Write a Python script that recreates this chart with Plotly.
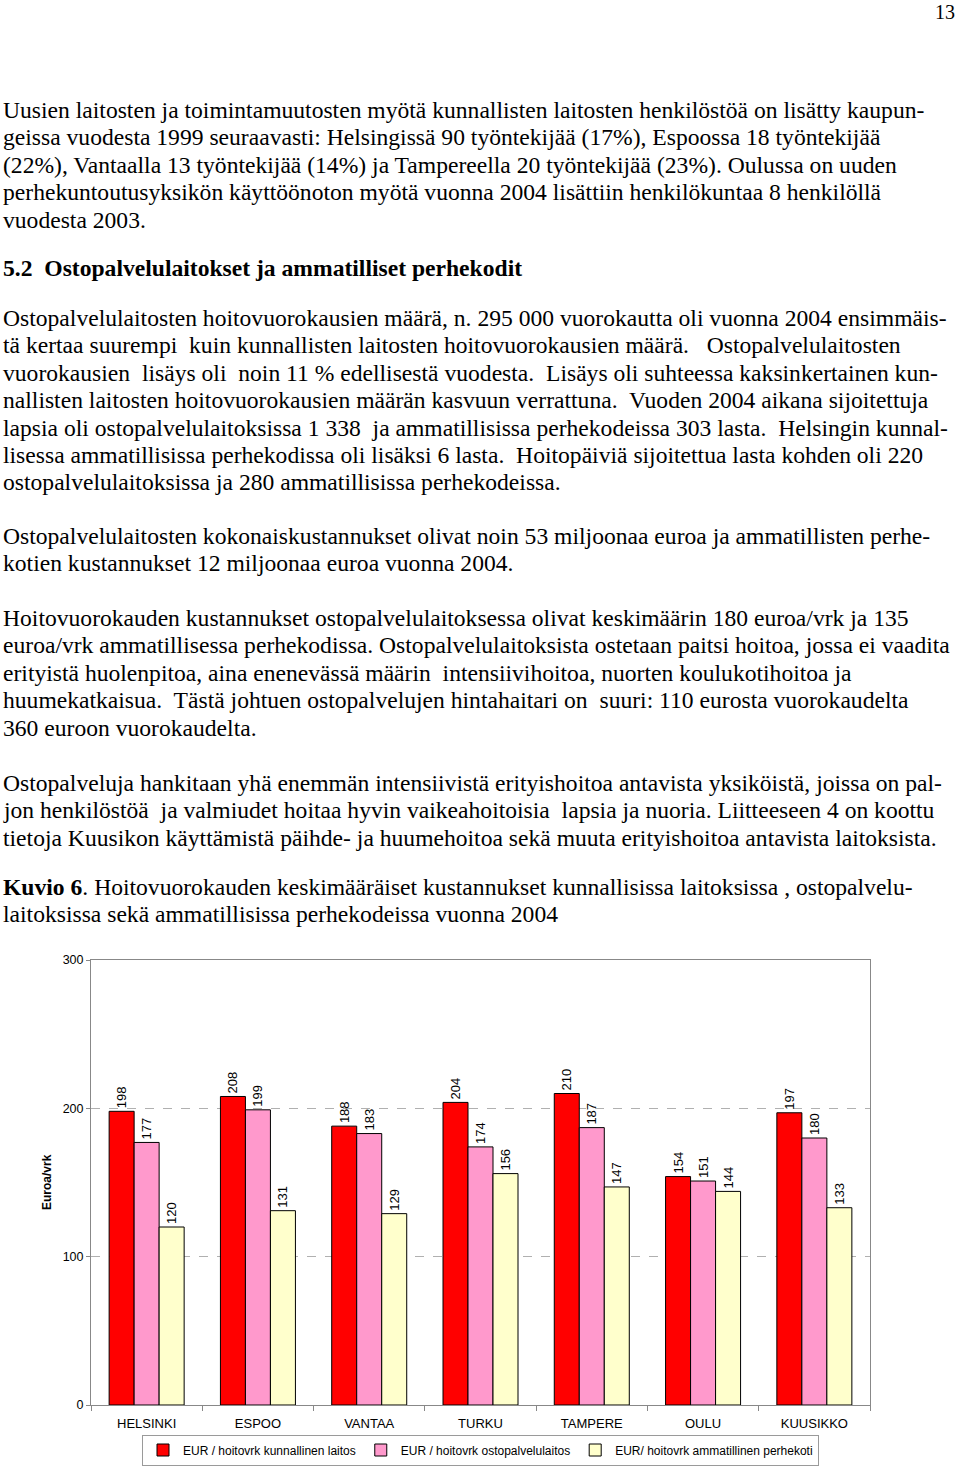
import plotly.graph_objects as go

# --- chart data -------------------------------------------------------------
cities = ["HELSINKI", "ESPOO", "VANTAA", "TURKU", "TAMPERE", "OULU", "KUUSIKKO"]
kunnallinen = [198, 208, 188, 204, 210, 154, 197]
ostopalvelu = [177, 199, 183, 174, 187, 151, 180]
perhekoti = [120, 131, 129, 156, 147, 144, 133]
series_names = [
    "EUR / hoitovrk kunnallinen laitos",
    "EUR / hoitovrk ostopalvelulaitos",
    "EUR/ hoitovrk ammatillinen perhekoti",
]
y_ticks = [0, 100, 200, 300]
y_title = "Euroa/vrk"

# --- page text --------------------------------------------------------------
page_number = "13"
para1 = [
    "Uusien laitosten ja toimintamuutosten myötä kunnallisten laitosten henkilöstöä on lisätty kaupun-",
    "geissa vuodesta 1999 seuraavasti: Helsingissä 90 työntekijää (17%), Espoossa 18 työntekijää",
    "(22%), Vantaalla 13 työntekijää (14%) ja Tampereella 20 työntekijää (23%). Oulussa on uuden",
    "perhekuntoutusyksikön käyttöönoton myötä vuonna 2004 lisättiin henkilökuntaa 8 henkilöllä",
    "vuodesta 2003.",
]
heading = "5.2  Ostopalvelulaitokset ja ammatilliset perhekodit"
para2 = [
    "Ostopalvelulaitosten hoitovuorokausien määrä, n. 295 000 vuorokautta oli vuonna 2004 ensimmäis-",
    "tä kertaa suurempi  kuin kunnallisten laitosten hoitovuorokausien määrä.   Ostopalvelulaitosten",
    "vuorokausien  lisäys oli  noin 11 % edellisestä vuodesta.  Lisäys oli suhteessa kaksinkertainen kun-",
    "nallisten laitosten hoitovuorokausien määrän kasvuun verrattuna.  Vuoden 2004 aikana sijoitettuja",
    "lapsia oli ostopalvelulaitoksissa 1 338  ja ammatillisissa perhekodeissa 303 lasta.  Helsingin kunnal-",
    "lisessa ammatillisissa perhekodissa oli lisäksi 6 lasta.  Hoitopäiviä sijoitettua lasta kohden oli 220",
    "ostopalvelulaitoksissa ja 280 ammatillisissa perhekodeissa.",
]
para3 = [
    "Ostopalvelulaitosten kokonaiskustannukset olivat noin 53 miljoonaa euroa ja ammatillisten perhe-",
    "kotien kustannukset 12 miljoonaa euroa vuonna 2004.",
]
para4 = [
    "Hoitovuorokauden kustannukset ostopalvelulaitoksessa olivat keskimäärin 180 euroa/vrk ja 135",
    "euroa/vrk ammatillisessa perhekodissa. Ostopalvelulaitoksista ostetaan paitsi hoitoa, jossa ei vaadita",
    "erityistä huolenpitoa, aina enenevässä määrin  intensiivihoitoa, nuorten koulukotihoitoa ja",
    "huumekatkaisua.  Tästä johtuen ostopalvelujen hintahaitari on  suuri: 110 eurosta vuorokaudelta",
    "360 euroon vuorokaudelta.",
]
para5 = [
    "Ostopalveluja hankitaan yhä enemmän intensiivistä erityishoitoa antavista yksiköistä, joissa on pal-",
    "jon henkilöstöä  ja valmiudet hoitaa hyvin vaikeahoitoisia  lapsia ja nuoria. Liitteeseen 4 on koottu",
    "tietoja Kuusikon käyttämistä päihde- ja huumehoitoa sekä muuta erityishoitoa antavista laitoksista.",
]
caption = [
    "<b>Kuvio 6</b>. Hoitovuorokauden keskimääräiset kustannukset kunnallisissa laitoksissa , ostopalvelu-",
    "laitoksissa sekä ammatillisissa perhekodeissa vuonna 2004",
]

# --- geometry ---------------------------------------------------------------
W, H = 960, 1467
L, R, T, B = 91, 90, 960, 62
PW, PH = W - L - R, H - T - B


def px(x):
    return (x - L) / PW


def py(y):
    return (H - B - y) / PH


SERIF = "Liberation Serif, Times New Roman, serif"
SANS = "Liberation Sans, Arial, sans-serif"
TXT = 23.6
LINE = 27.4

fig = go.Figure()
colors = ["#FF0000", "#FF99CC", "#FFFFCC"]
for name, vals, col in zip(series_names, [kunnallinen, ostopalvelu, perhekoti], colors):
    fig.add_trace(
        go.Bar(
            x=cities, y=vals, name=name,
            marker={"color": col, "line": {"color": "#000000", "width": 1}},
            text=vals, textposition="outside", textangle=-90,
            textfont={"family": SANS, "size": 13, "color": "#000000"},
            constraintext="none", cliponaxis=False,
        )
    )

annotations = []


def add_lines(lines, y0, bold=False):
    for i, line in enumerate(lines):
        t = f"<b>{line}</b>" if bold else line
        annotations.append(dict(
            x=px(1), y=py(y0 + i * LINE), xref="paper", yref="paper",
            text=t, showarrow=False, xanchor="left", yanchor="middle",
            font={"family": SERIF, "size": TXT, "color": "#000000"},
        ))


annotations.append(dict(
    x=px(957), y=py(12), xref="paper", yref="paper", text=page_number,
    showarrow=False, xanchor="right", yanchor="middle",
    font={"family": SERIF, "size": 20, "color": "#000000"},
))
add_lines(para1, 110)
add_lines([heading], 268, bold=True)
add_lines(para2, 318)
add_lines(para3, 536)
add_lines(para4, 618)
add_lines(para5, 783)
add_lines(caption, 887)

annotations.append(dict(
    x=px(47), y=py(1182), xref="paper", yref="paper", text=f"<b>{y_title}</b>",
    showarrow=False, textangle=-90, xanchor="center", yanchor="middle",
    font={"family": SANS, "size": 12, "color": "#000000"},
))

fig.update_layout(
    width=W, height=H,
    margin={"l": L, "r": R, "t": T, "b": B, "autoexpand": False},
    paper_bgcolor="white", plot_bgcolor="white",
    barmode="group", bargap=0.326, bargroupgap=0,
    annotations=annotations,
    showlegend=True,
    legend={
        "orientation": "h", "x": 0.5, "xanchor": "center",
        "y": py(1450), "yanchor": "middle",
        "bordercolor": "#9a9a9a", "borderwidth": 1, "bgcolor": "white",
        "font": {"family": SANS, "size": 12, "color": "#000000"},
        "itemwidth": 30, "tracegroupgap": 0,
    },
)
fig.update_xaxes(
    showline=True, linecolor="#888888", linewidth=1, mirror=True,
    ticks="outside", tickson="boundaries", ticklen=5, tickcolor="#888888",
    ticklabelstandoff=6,
    tickfont={"family": SANS, "size": 13, "color": "#000000"},
    showgrid=False,
)
fig.update_yaxes(
    range=[0, 300], tickvals=y_ticks,
    showline=True, linecolor="#888888", linewidth=1, mirror=True,
    ticks="outside", ticklen=4, tickcolor="#888888",
    tickfont={"family": SANS, "size": 12.5, "color": "#000000"},
    showgrid=True, gridcolor="#b0b0b0", griddash="dash", gridwidth=1,
    zeroline=False,
)

fig.write_html(
    "out.html",
    config={"displayModeBar": False},
    post_script="document.body.style.margin='0';",
)
